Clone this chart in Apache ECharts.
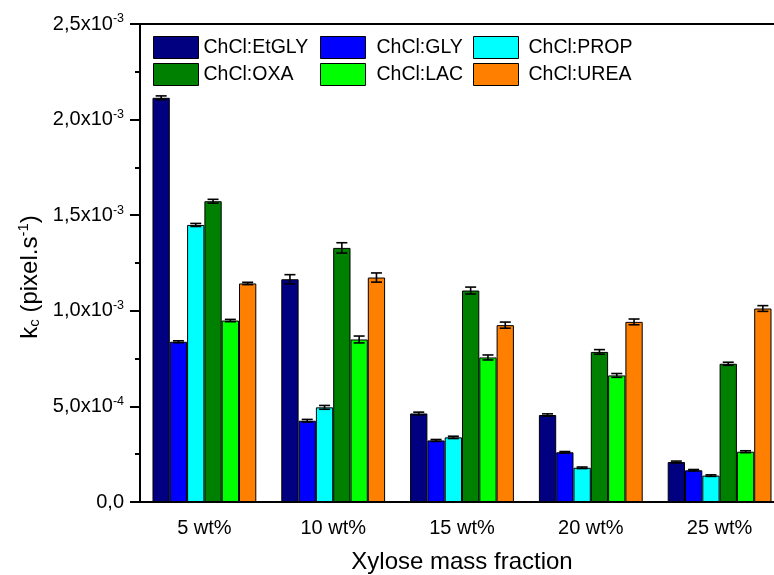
<!DOCTYPE html>
<html>
<head>
<meta charset="utf-8">
<script src="https://cdn.jsdelivr.net/npm/echarts@6/dist/echarts.min.js"></script>
<style>
  html, body { margin: 0; padding: 0; background: #fff; }
  #stage { width: 774px; height: 575px; }
</style>
</head>
<body>
<div id="stage"></div>
<script>
'use strict';

const categories = ['5 wt%', '10 wt%', '15 wt%', '20 wt%', '25 wt%'];
const seriesNames = ['ChCl:EtGLY', 'ChCl:GLY', 'ChCl:PROP', 'ChCl:OXA', 'ChCl:LAC', 'ChCl:UREA'];
const seriesColors = ['#000080', '#0000ff', '#00ffff', '#008000', '#00ff00', '#ff8000'];

// k_c values (pixel.s-1)
const etgly = [2.114e-3, 1.165e-3, 0.463e-3, 0.455e-3, 0.209e-3];
const gly   = [0.838e-3, 0.425e-3, 0.322e-3, 0.260e-3, 0.166e-3];
const prop  = [1.449e-3, 0.495e-3, 0.338e-3, 0.179e-3, 0.138e-3];
const oxa   = [1.573e-3, 1.329e-3, 1.106e-3, 0.785e-3, 0.723e-3];
const lac   = [0.949e-3, 0.850e-3, 0.756e-3, 0.662e-3, 0.263e-3];
const urea  = [1.143e-3, 1.174e-3, 0.925e-3, 0.942e-3, 1.012e-3];

// error bars (+/-)
const etglyErr = [0.010e-3, 0.024e-3, 0.007e-3, 0.006e-3, 0.005e-3];
const glyErr   = [0.005e-3, 0.007e-3, 0.005e-3, 0.004e-3, 0.004e-3];
const propErr  = [0.008e-3, 0.010e-3, 0.006e-3, 0.004e-3, 0.004e-3];
const oxaErr   = [0.010e-3, 0.027e-3, 0.018e-3, 0.012e-3, 0.008e-3];
const lacErr   = [0.006e-3, 0.018e-3, 0.013e-3, 0.010e-3, 0.005e-3];
const ureaErr  = [0.006e-3, 0.024e-3, 0.016e-3, 0.015e-3, 0.015e-3];

const values = [etgly, gly, prop, oxa, lac, urea];
const errors = [etglyErr, glyErr, propErr, oxaErr, lacErr, ureaErr];

const GAP = 0.194;
const FONT = 'Liberation Sans, Arial, sans-serif';

// "2,5x10^-3" style tick labels
function sciLabel(v) {
  if (v === 0) return '{b|0,0}';
  const exp = Math.floor(Math.log10(v) + 1e-9);
  const mant = (v / Math.pow(10, exp)).toFixed(1).replace('.', ',');
  return '{b|' + mant + 'x10}{s|' + exp + '}';
}

const myChart = echarts.init(document.getElementById('stage'));

const barSeries = seriesNames.map(function (name, i) {
  return {
    name: name,
    type: 'bar',
    xAxisIndex: 0,
    barGap: '0%',
    barCategoryGap: (GAP * 100) + '%',
    itemStyle: { color: seriesColors[i], borderColor: '#000', borderWidth: 1 },
    emphasis: { disabled: true },
    data: values[i]
  };
});

const errSeries = seriesNames.map(function (name, i) {
  return {
    name: name,
    type: 'custom',
    xAxisIndex: 0,
    z: 10,
    silent: true,
    data: values[i].map(function (v, c) { return [c, v, errors[i][c]]; }),
    renderItem: function (params, api) {
      const c = api.value(0), v = api.value(1), e = api.value(2);
      const band = api.size([1, 0])[0];
      const bw = band * (1 - GAP) / seriesNames.length;
      const x = api.coord([c, v])[0] + (i - (seriesNames.length - 1) / 2) * bw;
      const hi = api.coord([c, v + e])[1];
      const lo = api.coord([c, v - e])[1];
      const cap = 5.5;
      const st = { stroke: '#000', lineWidth: 1.6 };
      return {
        type: 'group',
        children: [
          { type: 'line', shape: { x1: x, y1: hi, x2: x, y2: lo }, style: st },
          { type: 'line', shape: { x1: x - cap, y1: hi, x2: x + cap, y2: hi }, style: st },
          { type: 'line', shape: { x1: x - cap, y1: lo, x2: x + cap, y2: lo }, style: st }
        ]
      };
    }
  };
});

function legendCol(names, left, pad) {
  return {
    orient: 'vertical',
    left: left,
    top: 31,
    itemWidth: 45,
    itemHeight: 22,
    itemGap: 4,
    icon: 'rect',
    selectedMode: false,
    itemStyle: { borderColor: '#000', borderWidth: 1 },
    textStyle: { fontFamily: FONT, fontSize: 19.5, color: '#000', padding: [0, 0, 0, pad] },
    data: names
  };
}

const option = {
  animation: false,
  backgroundColor: '#fff',
  grid: { left: 140, right: -10, top: 24, bottom: 73, outerBoundsMode: 'none' },
  legend: [
    legendCol(['ChCl:EtGLY', 'ChCl:OXA'], 148, 0),
    legendCol(['ChCl:GLY', 'ChCl:LAC'], 315, 6),
    legendCol(['ChCl:PROP', 'ChCl:UREA'], 468, 5)
  ],
  xAxis: [
    {
      type: 'category',
      data: categories,
      position: 'bottom',
      name: 'Xylose mass fraction',
      nameLocation: 'middle',
      nameGap: 48,
      nameTextStyle: { fontFamily: FONT, fontSize: 24, color: '#000' },
      axisLine: { lineStyle: { color: '#000', width: 2 } },
      axisTick: { alignWithLabel: true, length: 10, lineStyle: { color: '#000', width: 2 } },
      axisLabel: { fontFamily: FONT, fontSize: 20, color: '#000', margin: 16 }
    },
    {
      type: 'category',
      data: categories,
      position: 'bottom',
      axisLine: { show: false },
      axisTick: { length: 5, lineStyle: { color: '#000', width: 2 } },
      axisLabel: { show: false }
    },
    {
      type: 'category',
      data: categories,
      position: 'top',
      axisLine: { lineStyle: { color: '#000', width: 2 } },
      axisTick: { inside: true, length: 4, lineStyle: { color: '#000', width: 1.5 } },
      axisLabel: { show: false }
    },
    {
      type: 'category',
      data: categories,
      position: 'top',
      axisLine: { show: false },
      axisTick: { inside: true, alignWithLabel: true, length: 4, lineStyle: { color: '#000', width: 1.5 } },
      axisLabel: { show: false }
    }
  ],
  yAxis: {
    type: 'value',
    min: 0,
    max: 0.0025,
    interval: 0.0005,
    splitLine: { show: false },
    axisLine: { show: true, lineStyle: { color: '#000', width: 2 } },
    axisTick: { show: true, length: 10, lineStyle: { color: '#000', width: 2 } },
    minorTick: { show: true, splitNumber: 2, length: 5, lineStyle: { color: '#000', width: 2 } },
    axisLabel: {
      margin: 16,
      formatter: sciLabel,
      rich: {
        b: { fontFamily: FONT, fontSize: 20, color: '#000' },
        s: { fontFamily: FONT, fontSize: 12.5, color: '#000', verticalAlign: 'top', padding: [0, 0, 10, 0] }
      }
    }
  },
  graphic: [{
    type: 'text',
    x: 30,
    y: 277,
    rotation: Math.PI / 2,
    style: {
      text: '{a|k}{sub|c}{a| (pixel.s}{sup|-1}{a|)}',
      align: 'center',
      verticalAlign: 'middle',
      rich: {
        a: { fontFamily: FONT, fontSize: 24, fill: '#000' },
        sub: { fontFamily: FONT, fontSize: 15, fill: '#000', padding: [10, 0, 0, 0] },
        sup: { fontFamily: FONT, fontSize: 15, fill: '#000', padding: [0, 0, 12, 0] }
      }
    }
  }],
  series: barSeries.concat(errSeries)
};

myChart.setOption(option);
</script>
</body>
</html>
